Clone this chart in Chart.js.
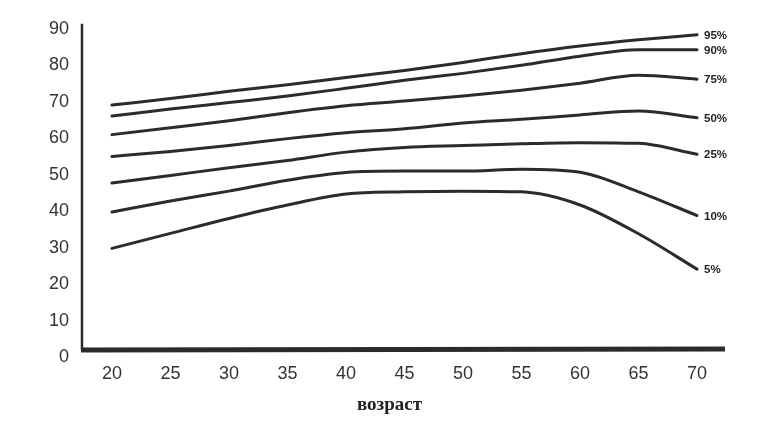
<!DOCTYPE html>
<html>
<head>
<meta charset="utf-8">
<script src="https://cdn.jsdelivr.net/npm/chart.js@4/dist/chart.umd.min.js"></script>
<style>
  html, body { margin: 0; padding: 0; background: #ffffff; }
  #wrap { width: 774px; height: 426px; position: relative; }
</style>
</head>
<body>
<div id="wrap"><canvas id="c" width="774" height="426"></canvas></div>
<script>
// ---- data ----
const ages = [20, 25, 30, 35, 40, 45, 50, 55, 60, 65, 70];
const p95 = [69.1, 70.9, 72.9, 74.7, 76.7, 78.6, 80.8, 83.2, 85.3, 87.0, 88.4];
const p90 = [66.1, 68.0, 69.8, 71.6, 73.7, 75.9, 77.8, 80.0, 82.5, 84.3, 84.3];
const p75 = [61.0, 62.9, 64.8, 67.0, 68.9, 70.2, 71.6, 73.2, 75.1, 77.3, 76.2];
const p50 = [55.0, 56.4, 58.0, 59.9, 61.5, 62.6, 64.2, 65.2, 66.4, 67.5, 65.6];
const p25 = [47.7, 49.8, 51.9, 53.9, 56.2, 57.5, 58.0, 58.5, 58.8, 58.6, 55.6];
const p10 = [39.8, 42.8, 45.5, 48.5, 50.6, 51.0, 51.0, 51.5, 50.7, 45.3, 38.8];
const p5  = [29.8, 33.9, 38.0, 41.7, 44.7, 45.3, 45.5, 45.3, 41.7, 33.8, 24.1];
const seriesLabels = ['95%', '90%', '75%', '50%', '25%', '10%', '5%'];
const seriesValues = [p95, p90, p75, p50, p25, p10, p5];
const xTicks = [20, 25, 30, 35, 40, 45, 50, 55, 60, 65, 70];
const yTicks = [0, 10, 20, 30, 40, 50, 60, 70, 80, 90];
const xTitle = 'возраст';

const INK = '#2b2b2b';

const datasets = seriesValues.map((vals, i) => ({
  label: seriesLabels[i],
  data: ages.map((a, j) => ({ x: a, y: vals[j] })),
  borderColor: INK,
  borderWidth: 3,
  pointRadius: 0,
  fill: false,
  cubicInterpolationMode: 'monotone',
  borderCapStyle: 'round'
}));

const decor = {
  id: 'decor',
  afterDatasetsDraw(chart) {
    const ctx = chart.ctx;
    const ca = chart.chartArea;
    const xs = chart.scales.x, ys = chart.scales.y;
    const axisY = ys.getPixelForValue(0) - 7;
    ctx.save();
    // y axis line
    ctx.strokeStyle = INK;
    ctx.lineWidth = 2.5;
    ctx.beginPath();
    ctx.moveTo(ca.left, ca.top);
    ctx.lineTo(ca.left, axisY);
    ctx.stroke();
    // thick x axis line
    ctx.lineWidth = 5;
    ctx.beginPath();
    ctx.moveTo(ca.left - 1, axisY);
    ctx.lineTo(ca.right, axisY - 1);
    ctx.stroke();
    // series end labels
    ctx.fillStyle = '#222';
    ctx.font = 'bold 11.5px "Liberation Sans", Arial, sans-serif';
    ctx.textAlign = 'left';
    ctx.textBaseline = 'middle';
    chart.data.datasets.forEach((ds, i) => {
      const meta = chart.getDatasetMeta(i);
      const pt = meta.data[meta.data.length - 1];
      ctx.fillText(ds.label, pt.x + 7, pt.y + 1);
    });
    // x axis title
    ctx.fillStyle = '#222';
    ctx.font = 'bold 19px "Liberation Serif", "Times New Roman", serif';
    ctx.textAlign = 'center';
    ctx.textBaseline = 'middle';
    const cx = (ca.left + xs.getPixelForValue(xTicks[xTicks.length - 1])) / 2;
    ctx.fillText(xTitle, cx, ca.bottom + 48);
    ctx.restore();
  }
};

new Chart(document.getElementById('c'), {
  type: 'line',
  data: { datasets },
  options: {
    responsive: false,
    animation: false,
    events: [],
    layout: { padding: { left: 0, right: 49, top: 20, bottom: 0 } },
    plugins: { legend: { display: false }, tooltip: { enabled: false } },
    scales: {
      x: {
        type: 'linear',
        min: 17.44,
        max: 72.39,
        border: { display: false },
        grid: { display: false, drawTicks: false },
        afterBuildTicks: (s) => { s.ticks = xTicks.map(v => ({ value: v })); },
        afterFit: (s) => { s.height = 69; },
        ticks: {
          color: '#333',
          padding: 6,
          maxRotation: 0,
          autoSkip: false,
          font: { family: '"Liberation Sans", Arial, sans-serif', size: 18 }
        }
      },
      y: {
        min: 0,
        max: 91.4,
        border: { display: false },
        grid: { display: false, drawTicks: false },
        afterBuildTicks: (s) => { s.ticks = yTicks.map(v => ({ value: v })); },
        afterFit: (s) => { s.width = 82; },
        ticks: {
          color: '#333',
          padding: 13,
          autoSkip: false,
          font: { family: '"Liberation Sans", Arial, sans-serif', size: 18 }
        }
      }
    }
  },
  plugins: [decor]
});
</script>
</body>
</html>
